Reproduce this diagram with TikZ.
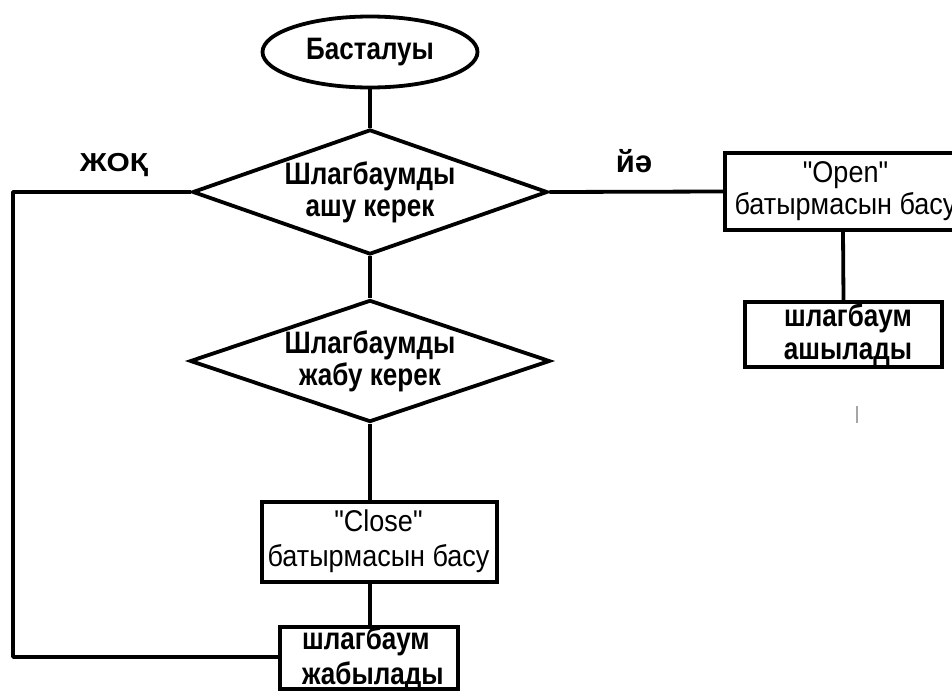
\documentclass[tikz,border=0pt]{standalone}
\usepackage{fontspec}
\setmainfont{Liberation Sans}
\newfontfamily\condfont{Liberation Sans}[FakeStretch=0.84]
\newfontfamily\plainfont{Liberation Sans}[FakeStretch=0.9]
\newfontfamily\widefont{Liberation Sans}[FakeStretch=1.15]
\usetikzlibrary{shapes.geometric}

\tikzset{
  flow/.style={line width=3.8pt, draw=black},
  boldtext/.style={font=\condfont\bfseries\fontsize{31}{#1}\selectfont, align=center, inner sep=0pt},
  boldtext/.default=32,
  plaintext/.style={font=\plainfont\fontsize{30}{#1}\selectfont, align=center, inner sep=0pt},
  plaintext/.default=34,
  terminal/.style={ellipse, flow, boldtext, minimum width=215pt, minimum height=71pt},
  decision/.style={diamond, flow, boldtext, inner sep=0pt},
  actbox/.style={rectangle, flow, inner sep=0pt},
  branchlabel/.style={font=\bfseries\fontsize{31}{34}\selectfont, inner sep=0pt}
}

\begin{document}
\begin{tikzpicture}[x=1pt, y=-1pt]
  \useasboundingbox (0,0) rectangle (952,691);
  \clip (0,0) rectangle (952,691);

  % start terminal
  \node[terminal] (start) at (370,52) {Басталуы};

  % decisions
  \node[decision, shape aspect=2.84, minimum width=355pt, minimum height=125pt] (openq) at (370,192)
    {Шлагбаумды\\ашу керек};
  \node[decision, shape aspect=2.95, minimum width=360pt, minimum height=122pt] (closeq) at (370,361)
    {Шлагбаумды\\жабу керек};

  % "close" branch
  \node[actbox, minimum width=235pt, minimum height=80pt] (closebtn) at (379.5,542) {};
  \node[plaintext=35] (closebtntext) at (378.5,541) {"Close"\\батырмасын басу};
  \node[actbox, minimum width=178pt, minimum height=62pt] (closed) at (369,658) {};
  \node[boldtext=35, anchor=west, align=left] (closedtext) at (302,659) {шлагбаум\\жабылады};

  % "open" branch
  \node[actbox, minimum width=236pt, minimum height=77pt] (openbtn) at (843,191.5) {};
  \node[plaintext=32] (openbtntext) at (845.5,191) {"Open"\\батырмасын басу};
  \node[actbox, minimum width=197pt, minimum height=65pt] (opened) at (843.5,334.5) {};
  \node[boldtext=33] (openedtext) at (848,335) {шлагбаум\\ашылады};

  % connectors
  \draw[flow] (start.south) -- (openq.north);
  \draw[flow] (openq.south) -- (closeq.north);
  \draw[flow] (closeq.south) -- (closebtn.north -| closeq.south);
  \draw[flow] (closebtn.south -| closeq.south) -- (closed.north -| closeq.south);
  \draw[flow] (openq.east) -- (openbtn.west);
  \draw[flow] (openbtn.south) -- (opened.north);

  \coordinate (loopleft) at (13,192);
  \draw[flow, line join=round] (openq.west) -- (loopleft) -- (loopleft |- 0,657) -- (closed.west |- 0,657);

  % branch labels
  \node[font=\widefont\bfseries\fontsize{26}{30}\selectfont, inner sep=0pt] (nolabel) at (114,165) {ЖОҚ};
  \node[branchlabel] (yeslabel) at (634,161) {йә};

  % small stray mark
  \draw[gray!70, line width=2.5pt] (857,406) -- (857,423);
\end{tikzpicture}
\end{document}
